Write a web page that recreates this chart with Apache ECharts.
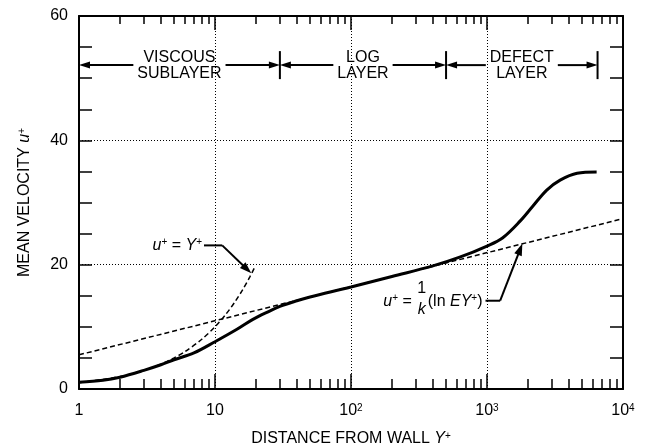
<!DOCTYPE html>
<html>
<head>
<meta charset="utf-8">
<script src="https://cdn.jsdelivr.net/npm/echarts@6/dist/echarts.min.js"></script>
<style>
  html, body { margin: 0; background: #fff; }
  #chart { width: 648px; height: 446px; }
</style>
</head>
<body>
<div id="chart"></div>
<script>
const FONT = '"Liberation Sans", Arial, Helvetica, sans-serif'

// axis ticks
const xTickValues = [1, 10, 100, 1000, 10000]
const xTickLabels = ['1', '10', '10{s|2}', '10{s|3}', '10{s|4}']
const yTickLabels = [0, 20, 40, 60]

// mean velocity profile
const profileY = [1, 1.5, 2, 3, 4, 5, 7, 10, 14.5, 19, 25, 30, 40, 50, 100, 200, 400, 630, 1000, 1300, 1750, 2170, 2750, 3450, 4600, 6400]
const profileU = [1.1, 1.4, 1.9, 3.0, 3.9, 4.7, 5.8, 7.6, 9.6, 11.2, 12.5, 13.3, 14.2, 14.8, 16.4, 18.1, 19.8, 21.2, 23.0, 24.3, 27.0, 29.4, 32.0, 33.6, 34.7, 34.9]

// u+ = Y+ (viscous sublayer)
const sublayerY = [1, 2, 3, 4, 5, 6, 8, 10, 12, 14, 16, 18, 19.7]
const sublayerU = [1, 2, 3, 4, 5, 6, 8, 10, 12, 14, 16, 18, 19.7]

// u+ = (1/k) ln(E Y+)  (log law, straight on log axis)
const logLawY = [1, 10000]
const logLawU = [5.5, 27.4]

// layer regions
const layerBounds = [1, 30, 500, 6500]
const layerNames = ['VISCOUS\nSUBLAYER', 'LOG\nLAYER', 'DEFECT\nLAYER']

// annotation anchors (data coords)
const layerArrowU = 52.1
const sublayerNote = { tip: [18.5, 18.6], elbow: [11.3, 23.1], start: [8.3, 23.1] }
const logLawNote = { tip: [1820, 23.4], elbow: [1250, 14.2], start: [975, 14.2] }

const zip = (xs, ys) => xs.map((x, i) => [x, ys[i]])

const txt = { fontFamily: FONT, fontSize: 16, color: '#000' }
const rich = {
  s: { fontFamily: FONT, fontSize: 10, color: '#000', verticalAlign: 'top' },
  i: { fontFamily: FONT, fontSize: 16, color: '#000', fontStyle: 'italic' }
}
const dotted = { show: true, lineStyle: { color: '#000', width: 1, type: [1, 2] } }

const chart = echarts.init(document.getElementById('chart'), null, { renderer: 'canvas' })

const xBase = {
  type: 'log', logBase: 10, min: 1, max: 10000,
  axisLine: { show: true, onZero: false, lineStyle: { color: '#000', width: 2 } },
  axisTick: { inside: true, length: 15, lineStyle: { color: '#000', width: 1.5 } },
  minorTick: { show: true, splitNumber: 9, length: 10, lineStyle: { color: '#000', width: 1.5 } },
}
const yBase = {
  type: 'value', min: 0, max: 60, interval: 20,
  axisLine: { show: true, onZero: false, lineStyle: { color: '#000', width: 2 } },
  axisTick: { inside: true, length: 13, lineStyle: { color: '#000', width: 1.5 } },
  minorTick: { show: true, splitNumber: 4, length: 13, lineStyle: { color: '#000', width: 1.5 } },
}

chart.setOption({
  animation: false,
  backgroundColor: '#fff',
  grid: { left: 79, right: 25, top: 16, bottom: 57, outerBoundsMode: 'none' },
  xAxis: [
    {
      ...xBase, position: 'bottom',
      name: 'DISTANCE FROM WALL {i|Y}{s|+}', nameLocation: 'middle', nameGap: 42,
      nameTextStyle: { ...txt, rich },
      axisLabel: {
        ...txt, margin: 14, rich,
        formatter: v => {
          const k = xTickValues.findIndex(t => Math.abs(v - t) / t < 1e-6)
          return k < 0 ? '' : xTickLabels[k]
        }
      },
      splitLine: dotted,
    },
    {
      ...xBase, position: 'top',
      axisTick: { ...xBase.axisTick, length: 14 },
      minorTick: { ...xBase.minorTick, length: 8 },
      axisLabel: { show: false }, splitLine: { show: false },
    }
  ],
  yAxis: [
    {
      ...yBase, position: 'left',
      name: 'MEAN VELOCITY {i|u}{s|+}', nameLocation: 'middle', nameGap: 46,
      nameTextStyle: { ...txt, rich },
      axisLabel: {
        ...txt, margin: 11,
        formatter: v => (yTickLabels.includes(v) ? String(v) : '')
      },
      splitLine: dotted,
    },
    {
      ...yBase, position: 'right',
      axisLabel: { show: false }, splitLine: { show: false },
    }
  ],
  series: [
    {
      name: 'profile', type: 'line', data: zip(profileY, profileU),
      smooth: 0.35, showSymbol: false, z: 4,
      lineStyle: { color: '#000', width: 3 },
    },
    {
      name: 'sublayer', type: 'line', data: zip(sublayerY, sublayerU),
      smooth: 0.3, showSymbol: false, z: 3,
      lineStyle: { color: '#000', width: 1.5, type: [5, 3] },
    },
    {
      name: 'loglaw', type: 'line', data: zip(logLawY, logLawU),
      showSymbol: false, z: 3,
      lineStyle: { color: '#000', width: 1.5, type: [5, 3] },
    },
  ],
})

// ---- annotations, placed through the axes ----
const px = p => chart.convertToPixel({ xAxisIndex: 0, yAxisIndex: 0 }, p)
const ctx = document.createElement('canvas').getContext('2d')
const measure = (s, size, style) => { ctx.font = (style || '') + ' ' + size + 'px ' + FONT; return ctx.measureText(s).width }

const line = (a, b, w) => ({ type: 'line', z: 50, shape: { x1: a[0], y1: a[1], x2: b[0], y2: b[1] }, style: { stroke: '#000', lineWidth: w || 2 } })
function arrowHead(tip, from, len, half) {
  const dx = tip[0] - from[0], dy = tip[1] - from[1], d = Math.hypot(dx, dy)
  const ux = dx / d, uy = dy / d
  const bx = tip[0] - ux * len, by = tip[1] - uy * len
  return {
    el: { type: 'polygon', z: 50, shape: { points: [tip, [bx - uy * half, by + ux * half], [bx + uy * half, by - ux * half]] }, style: { fill: '#000' } },
    base: [bx + ux * 1, by + uy * 1]
  }
}
function arrow(from, tip, len, half, w) {
  const h = arrowHead(tip, from, len, half)
  return [line(from, h.base, w), h.el]
}

const g = []
const ay = px([1, layerArrowU])[1]
const bx = layerBounds.map(b => px([b, layerArrowU])[0])
bx.forEach(x => g.push(line([x, ay - 14], [x, ay + 14], 2)))
layerNames.forEach((name, i) => {
  const x0 = bx[i], x1 = bx[i + 1], cx = (x0 + x1) / 2
  const w = Math.max(...name.split('\n').map(s => measure(s, 16)))
  g.push({ type: 'text', z: 50, x: cx, y: ay, style: { text: name, fontFamily: FONT, fontSize: 16, lineHeight: 16, fill: '#000', align: 'center', verticalAlign: 'middle' } })
  g.push(...arrow([cx - w / 2 - 4, ay], [x0, ay], 11, 3.5, 2))
  g.push(...arrow([cx + w / 2 + 4, ay], [x1, ay], 11, 3.5, 2))
})

const richG = {
  s: { fontFamily: FONT, fontSize: 10, fill: '#000', verticalAlign: 'top' },
  i: { fontFamily: FONT, fontSize: 16, fill: '#000', fontStyle: 'italic' },
  n: { fontFamily: FONT, fontSize: 16, fill: '#000' }
}

// u+ = Y+
{
  const s = px(sublayerNote.start), e = px(sublayerNote.elbow), t = px(sublayerNote.tip)
  g.push(line(s, e, 2))
  g.push(...arrow(e, t, 12, 4, 2))
  g.push({ type: 'text', z: 50, x: s[0] - 2, y: s[1], style: { text: '{i|u}{s|+}{n| = }{i|Y}{s|+}', rich: richG, fontFamily: FONT, fontSize: 16, align: 'right', verticalAlign: 'middle' } })
}

// u+ = (1/k)(ln EY+)
{
  const s = px(logLawNote.start), e = px(logLawNote.elbow), t = px(logLawNote.tip)
  g.push(line(s, e, 2))
  g.push(...arrow(e, t, 12, 4, 2))
  const right = s[0] - 3
  const wParen = measure('(ln ', 16) + measure('EY', 16, 'italic') + measure('+', 10) + measure(')', 16)
  const parenStart = right - wParen
  g.push({ type: 'text', z: 50, x: right, y: s[1] + 1, style: { text: '{n|(ln }{i|EY}{s|+}{n|)}', rich: richG, fontFamily: FONT, fontSize: 16, align: 'right', verticalAlign: 'middle' } })
  const fx = parenStart - 6
  g.push({ type: 'text', z: 50, x: fx, y: s[1] - 12, style: { text: '1', fontFamily: FONT, fontSize: 16, fill: '#000', align: 'center', verticalAlign: 'middle' } })
  g.push({ type: 'text', z: 50, x: fx, y: s[1] + 9, style: { text: 'k', fontFamily: FONT, fontSize: 16, fontStyle: 'italic', fill: '#000', align: 'center', verticalAlign: 'middle' } })
  g.push({ type: 'text', z: 50, x: parenStart - 16, y: s[1] + 1, style: { text: '{i|u}{s|+}{n| =}', rich: richG, fontFamily: FONT, fontSize: 16, align: 'right', verticalAlign: 'middle' } })
}

chart.setOption({ graphic: g })
</script>
</body>
</html>
